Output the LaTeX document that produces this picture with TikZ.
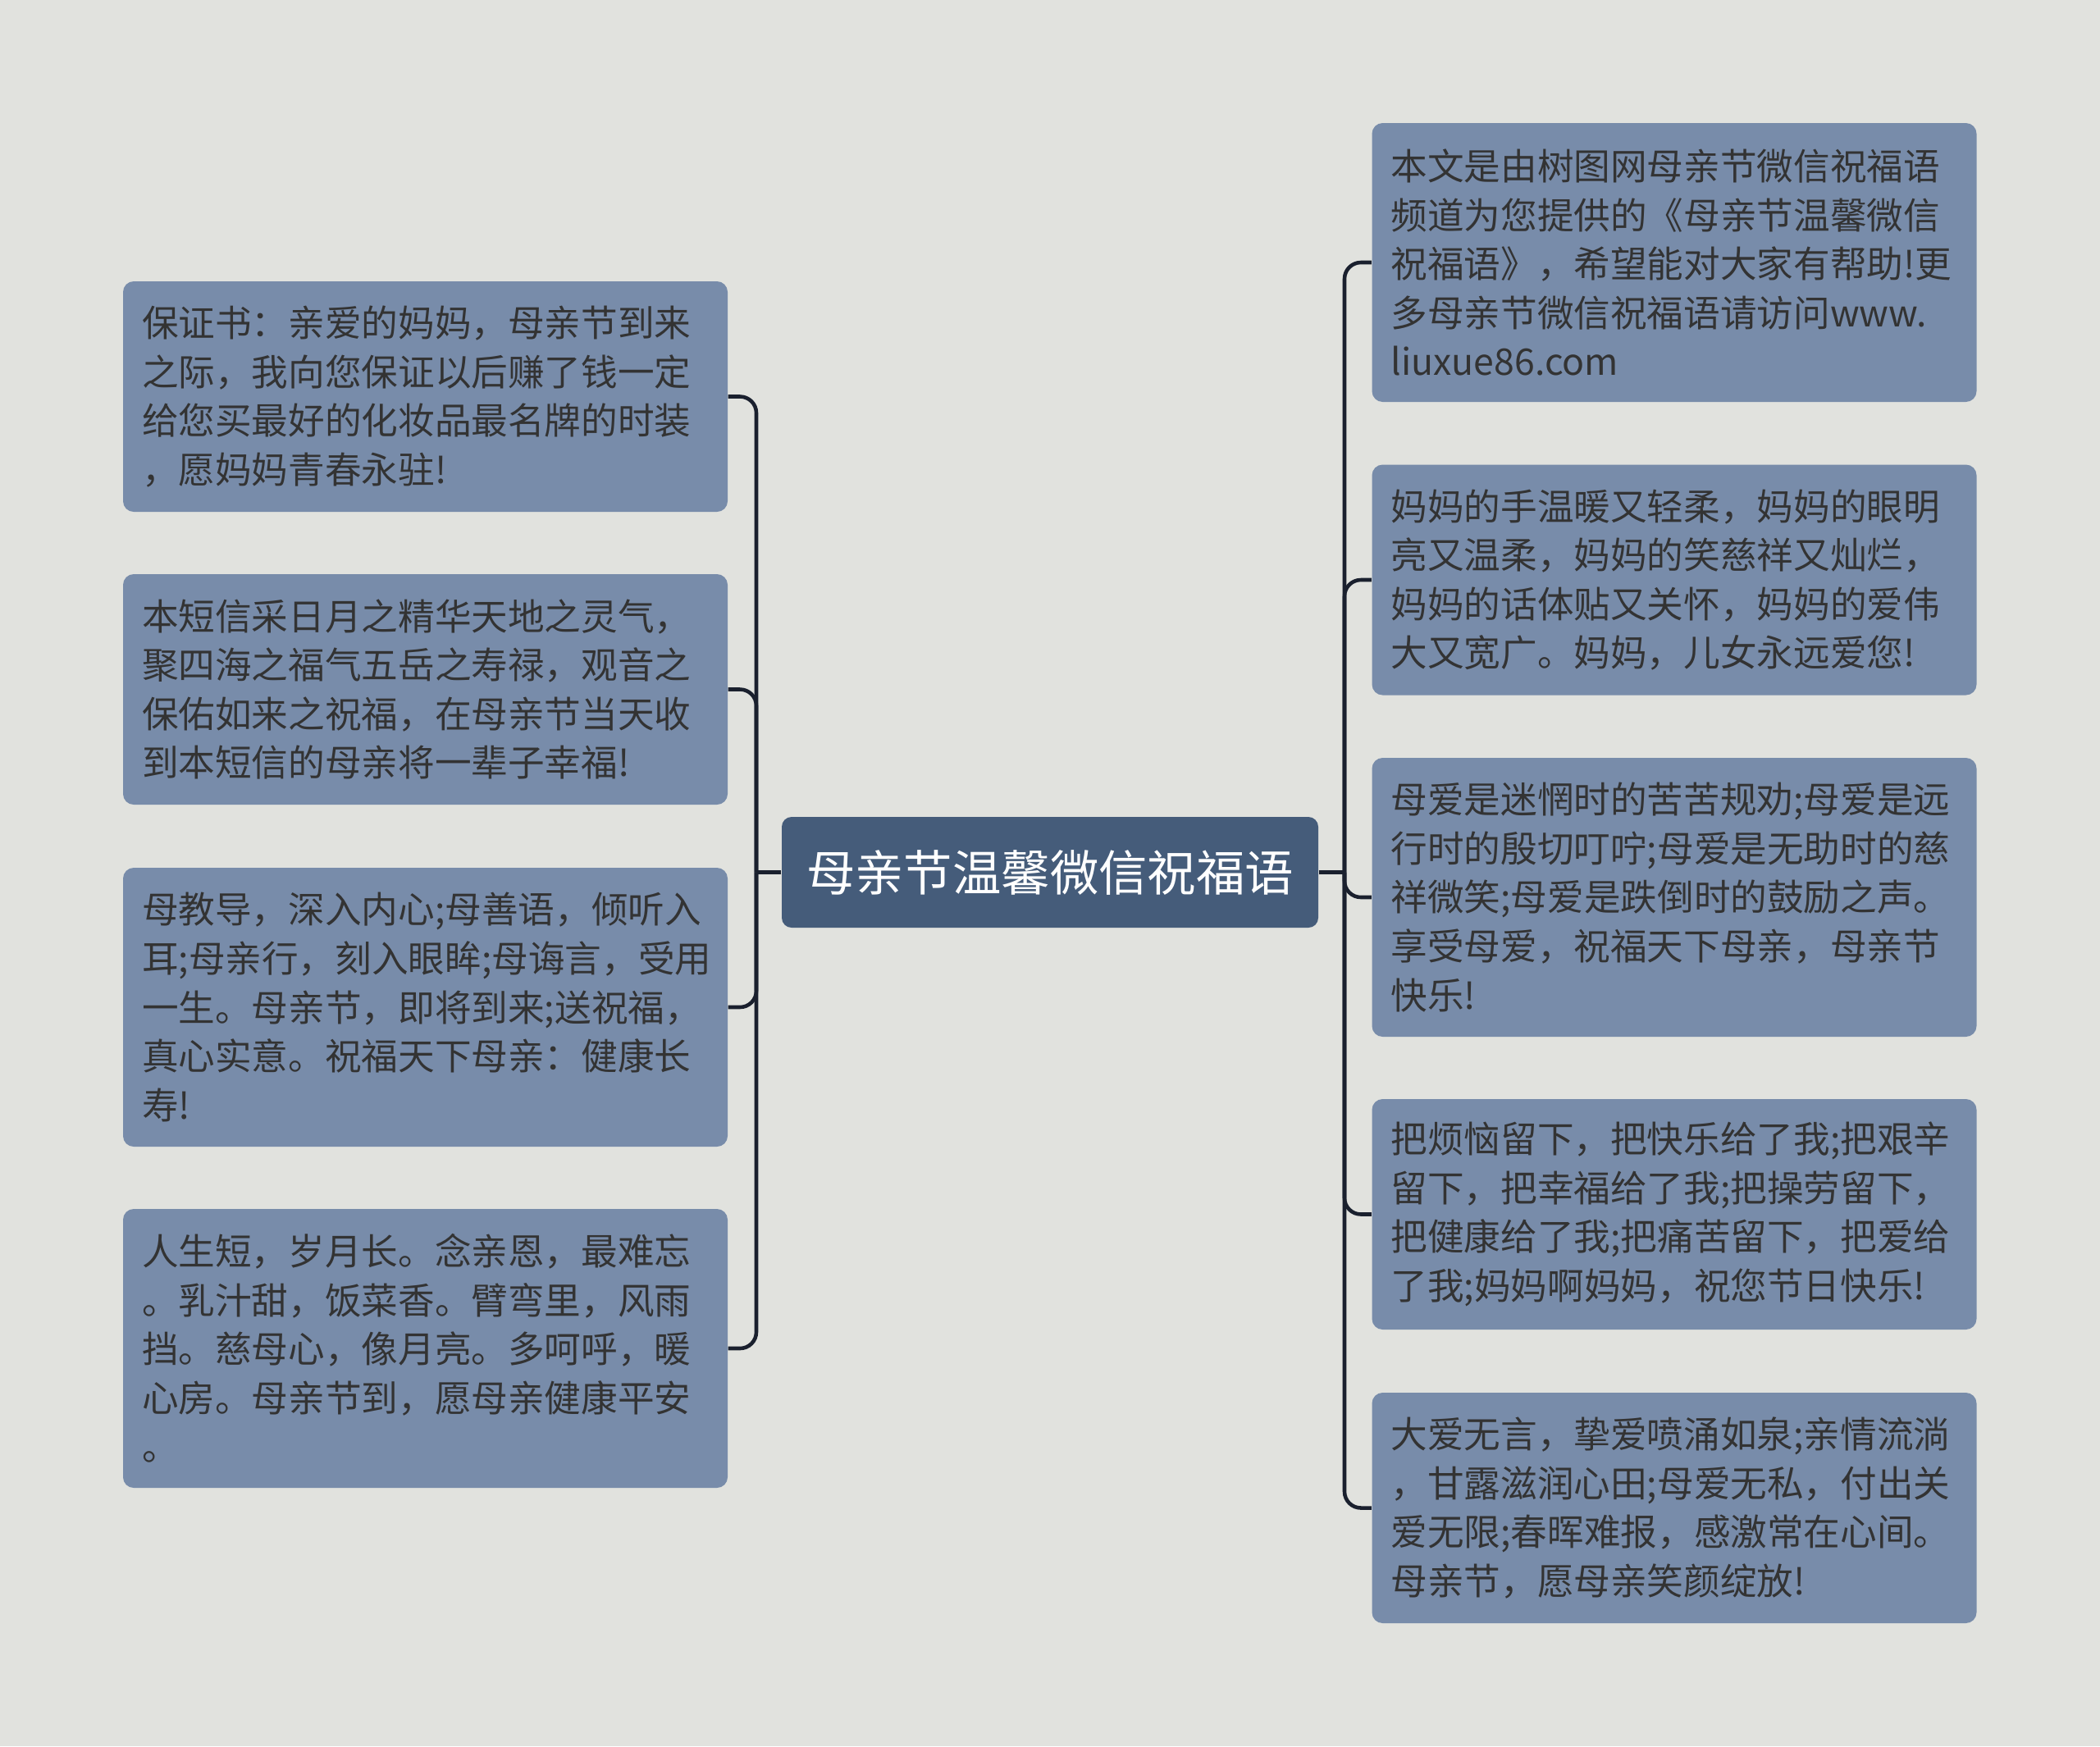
\documentclass[tikz,border=0pt]{standalone}
\usepackage{fontspec}
\setmainfont{Noto Sans CJK SC}
\definecolor{bgc}{RGB}{225,226,222}
\definecolor{leafc}{RGB}{120,140,170}
\definecolor{rootc}{RGB}{69,92,122}
\definecolor{linkc}{RGB}{26,32,46}
\definecolor{txtc}{RGB}{51,51,51}
\tikzset{
  leaf/.style = {fill = leafc, rounded corners = 0.13cm, inner xsep = 0.23cm, inner ysep = 0pt,
    text width = 6.91cm, align = left, text = txtc, font = \fontsize{12.7pt}{16.95pt}\selectfont},
  rows4/.style = {minimum height = 2.81cm},
  rows5/.style = {minimum height = 3.40cm},
  link/.style = {draw = linkc, line width = 1.3pt, rounded corners = 0.2cm}
}
\begin{document}
\begin{tikzpicture}
\useasboundingbox[fill = bgc] (0,0) rectangle (25.6,-21.29);
\node[fill = rootc, rounded corners = 0.12cm, minimum width = 6.54cm, minimum height = 1.35cm, text = white, font = \fontsize{16.9pt}{20pt}\selectfont] (root) at (12.80,-10.635) {母亲节温馨微信祝福语};
\node[leaf, rows4] (l1) at (5.185,-4.835) {保证书：亲爱的妈妈，母亲节到来\\之际，我向您保证以后赚了钱一定\\给您买最好的化妆品最名牌的时装\\，愿妈妈青春永驻!};
\node[leaf, rows4] (l2) at (5.185,-8.405) {本短信采日月之精华天地之灵气，\\聚四海之福气五岳之寿禄，观音之\\保佑如来之祝福，在母亲节当天收\\到本短信的母亲将一辈子幸福!};
\node[leaf, rows5] (l3) at (5.185,-12.28) {母教导，深入内心;母善语，倾听入\\耳;母亲行，刻入眼眸;母诲言，受用\\一生。母亲节，即将到来;送祝福，\\真心实意。祝福天下母亲：健康长\\寿!};
\node[leaf, rows5] (l4) at (5.185,-16.44) {人生短，岁月长。念亲恩，最难忘\\。乳汁甜，饭菜香。臂弯里，风雨\\挡。慈母心，像月亮。多呵呼，暖\\心房。母亲节到，愿母亲健康平安\\。};
\node[leaf, rows5] (r1) at (20.41,-3.20) {本文是由树图网母亲节微信祝福语\\频道为您提供的《母亲节温馨微信\\祝福语》，希望能对大家有帮助!更\\多母亲节微信祝福语请访问www.\\liuxue86.com};
\node[leaf, rows4] (r2) at (20.41,-7.07) {妈妈的手温暖又轻柔，妈妈的眼明\\亮又温柔，妈妈的笑慈祥又灿烂，\\妈妈的话体贴又关怀，妈妈的爱伟\\大又宽广。妈妈，儿女永远爱您!};
\node[leaf, rows5] (r3) at (20.41,-10.94) {母爱是迷惘时的苦苦规劝;母爱是远\\行时的殷切叮咛;母爱是无助时的慈\\祥微笑;母爱是跌倒时的鼓励之声。\\享受母爱，祝福天下母亲，母亲节\\快乐!};
\node[leaf, rows4] (r4) at (20.41,-14.805) {把烦恼留下，把快乐给了我;把艰辛\\留下，把幸福给了我;把操劳留下，\\把健康给了我;把痛苦留下，把爱给\\了我;妈妈啊妈妈，祝您节日快乐!};
\node[leaf, rows4] (r5) at (20.41,-18.385) {大爱无言，挚爱喷涌如泉;亲情流淌\\，甘露滋润心田;母爱无私，付出关\\爱无限;春晖难报，感激常在心间。\\母亲节，愿母亲笑颜绽放!};
\coordinate (lj) at (9.22,-10.635);
\coordinate (rj) at (16.39,-10.635);
\draw[link] (root.west) -- (lj);
\draw[link] (root.east) -- (rj);
\foreach \n in {l1,l2,l3,l4}
  \draw[link] (lj) |- (\n.east);
\foreach \n in {r1,r2,r3,r4,r5}
  \draw[link] (rj) |- (\n.west);
\end{tikzpicture}
\end{document}
